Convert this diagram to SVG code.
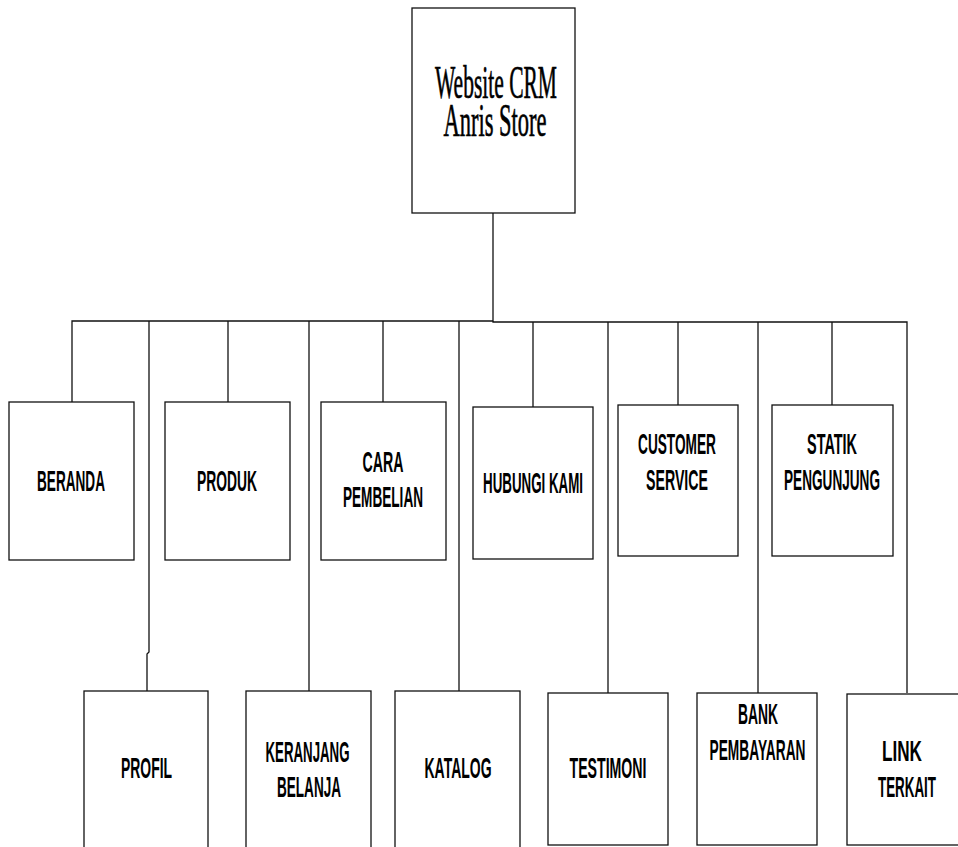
<svg xmlns="http://www.w3.org/2000/svg" width="958" height="847" viewBox="0 0 958 847">
  <style>
    .box { fill: #ffffff; stroke: #111111; stroke-width: 1.3; }
    .wire { fill: none; stroke: #111111; stroke-width: 1.3; }
    .lbl { font-family: "Liberation Sans Narrow", "Liberation Sans", Arial, sans-serif; font-weight: bold; font-size: 30px; fill: #000000; text-anchor: middle; }
    .title { font-family: "Liberation Serif", "Times New Roman", serif; font-size: 47px; fill: #000000; stroke: #000000; stroke-width: 0.7; text-anchor: middle; }
  </style>
  <rect width="958" height="847" fill="#ffffff"/>

  <!-- connectors -->
  <g id="connectors">
    <path class="wire" d="M493,213 V321 H72 V402"/>
    <path class="wire" d="M493,321 V322 H907 V693"/>
    <path class="wire" d="M149,321 V652 L147,654 V691"/>
    <path class="wire" d="M228,321 V402"/>
    <path class="wire" d="M309,321 V691"/>
    <path class="wire" d="M383,321 V402"/>
    <path class="wire" d="M459,321 V691"/>
    <path class="wire" d="M533,322 V407"/>
    <path class="wire" d="M608,322 V693"/>
    <path class="wire" d="M678,322 V405"/>
    <path class="wire" d="M758,322 V693"/>
    <path class="wire" d="M832,322 V405"/>
  </g>

  <!-- root -->
  <g id="root">
    <rect class="box" x="412" y="8" width="163" height="205"/>
    <text class="title" x="496" y="98" textLength="122" lengthAdjust="spacingAndGlyphs">Website CRM</text>
    <text class="title" x="495" y="136" textLength="103" lengthAdjust="spacingAndGlyphs">Anris Store</text>
  </g>

  <!-- first row -->
  <g id="beranda">
    <rect class="box" x="9" y="402" width="125" height="158"/>
    <text class="lbl" x="71" y="491" textLength="68" lengthAdjust="spacingAndGlyphs">BERANDA</text>
  </g>
  <g id="produk">
    <rect class="box" x="165" y="402" width="125" height="158"/>
    <text class="lbl" x="227" y="491" textLength="60" lengthAdjust="spacingAndGlyphs">PRODUK</text>
  </g>
  <g id="cara-pembelian">
    <rect class="box" x="321" y="402" width="125" height="158"/>
    <text class="lbl" x="383" y="472" textLength="41" lengthAdjust="spacingAndGlyphs">CARA</text>
    <text class="lbl" x="383" y="507" textLength="80" lengthAdjust="spacingAndGlyphs">PEMBELIAN</text>
  </g>
  <g id="hubungi-kami">
    <rect class="box" x="473" y="407" width="120" height="152"/>
    <text class="lbl" x="533" y="493" textLength="100" lengthAdjust="spacingAndGlyphs">HUBUNGI KAMI</text>
  </g>
  <g id="customer-service">
    <rect class="box" x="618" y="405" width="120" height="151"/>
    <text class="lbl" x="677" y="454" textLength="78" lengthAdjust="spacingAndGlyphs">CUSTOMER</text>
    <text class="lbl" x="677" y="490" textLength="62" lengthAdjust="spacingAndGlyphs">SERVICE</text>
  </g>
  <g id="statik-pengunjung">
    <rect class="box" x="772" y="405" width="121" height="151"/>
    <text class="lbl" x="832" y="454" textLength="50" lengthAdjust="spacingAndGlyphs">STATIK</text>
    <text class="lbl" x="832" y="490" textLength="96" lengthAdjust="spacingAndGlyphs">PENGUNJUNG</text>
  </g>

  <!-- second row -->
  <g id="profil">
    <rect class="box" x="84" y="691" width="124" height="170"/>
    <text class="lbl" x="146.5" y="778" textLength="51" lengthAdjust="spacingAndGlyphs">PROFIL</text>
  </g>
  <g id="keranjang-belanja">
    <rect class="box" x="246" y="691" width="125" height="170"/>
    <text class="lbl" x="307.5" y="762" textLength="84" lengthAdjust="spacingAndGlyphs">KERANJANG</text>
    <text class="lbl" x="309" y="797" textLength="64" lengthAdjust="spacingAndGlyphs">BELANJA</text>
  </g>
  <g id="katalog">
    <rect class="box" x="395" y="691" width="125" height="170"/>
    <text class="lbl" x="458" y="778" textLength="67" lengthAdjust="spacingAndGlyphs">KATALOG</text>
  </g>
  <g id="testimoni">
    <rect class="box" x="548" y="693" width="120" height="152"/>
    <text class="lbl" x="608" y="778" textLength="77" lengthAdjust="spacingAndGlyphs">TESTIMONI</text>
  </g>
  <g id="bank-pembayaran">
    <rect class="box" x="697" y="693" width="120" height="152"/>
    <text class="lbl" x="758" y="724" textLength="40" lengthAdjust="spacingAndGlyphs">BANK</text>
    <text class="lbl" x="757.5" y="760" textLength="96" lengthAdjust="spacingAndGlyphs">PEMBAYARAN</text>
  </g>
  <g id="link-terkait">
    <rect class="box" x="847" y="694" width="120" height="151"/>
    <text class="lbl" x="902" y="761" textLength="40" lengthAdjust="spacingAndGlyphs">LINK</text>
    <text class="lbl" x="907" y="797" textLength="58" lengthAdjust="spacingAndGlyphs">TERKAIT</text>
  </g>
</svg>
